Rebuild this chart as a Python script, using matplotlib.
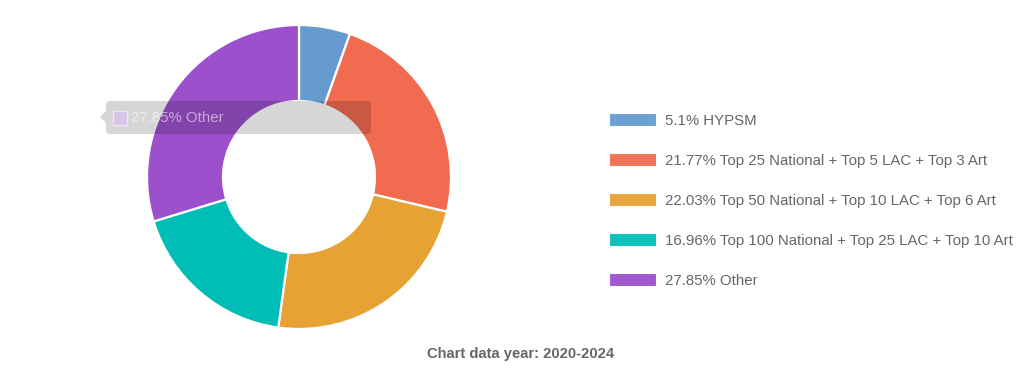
import matplotlib
matplotlib.use("Agg")
import matplotlib.pyplot as plt
from matplotlib.patches import Rectangle, FancyBboxPatch, Polygon

plt.rcParams['font.family'] = ['Liberation Sans', 'DejaVu Sans']

categories = ["HYPSM",
              "Top 25 National + Top 5 LAC + Top 3 Art",
              "Top 50 National + Top 10 LAC + Top 6 Art",
              "Top 100 National + Top 25 LAC + Top 10 Art",
              "Other"]
values = [5.1, 21.77, 22.03, 16.96, 27.85]
colors = ["#659BCE", "#F06B50", "#E6A233", "#00BDB5", "#9C50CC"]
caption = "Chart data year: 2020-2024"
tooltip_index = 4

W, H = 1026, 390
fig = plt.figure(figsize=(W / 100, H / 100), dpi=100)
ax = fig.add_axes([0, 0, 1, 1])

def Y(py):
    return H - py

cx, cy, R = 299, 177, 152
ax.pie(values, colors=colors, startangle=90, counterclock=False,
       center=(cx, Y(cy)), radius=R,
       wedgeprops=dict(width=R * 0.5, edgecolor='white', linewidth=1.6),
       frame=True)
ax.set_xlim(0, W)
ax.set_ylim(0, H)
ax.set_aspect('auto')
ax.axis('off')

# legend
lx, ly0, dy = 609, 119.5, 40
for i, (c, v, name) in enumerate(zip(colors, values, categories)):
    y = ly0 + i * dy
    ax.add_patch(Rectangle((lx, Y(y) - 6.5), 47, 13, facecolor=c,
                           edgecolor='white', linewidth=0.8, alpha=0.95))
    ax.text(lx + 56, Y(y + 1.5), f"{v:g}% {name}", fontsize=10.8, color='#666666',
            va='center', ha='left')

# caption
ax.text(521, Y(354), caption, fontsize=10.6, fontweight='bold',
        color='#666666', ha='center', va='center')

# faded tooltip
tx0, tx1, ty0, ty1 = 106, 371, 101, 134
ax.add_patch(FancyBboxPatch((tx0 + 4, Y(ty1) + 4), tx1 - tx0 - 8, ty1 - ty0 - 8,
                            boxstyle="round,pad=4", facecolor='black',
                            edgecolor='none', alpha=0.16))
ax.add_patch(Polygon([(tx0, Y(111)), (tx0 - 6, Y(117)), (tx0, Y(123))],
                     closed=True, facecolor='black', edgecolor='none', alpha=0.16))
ax.add_patch(Rectangle((113, Y(125)), 14, 14, facecolor='#d8c4e6',
                       edgecolor='#ece6f0', linewidth=1.0))
ax.text(131, Y(118), f"{values[tooltip_index]:g}% {categories[tooltip_index]}",
        fontsize=10.8, color='white', alpha=0.55, va='center', ha='left')

fig.savefig("out.png", dpi=100, facecolor='white')
